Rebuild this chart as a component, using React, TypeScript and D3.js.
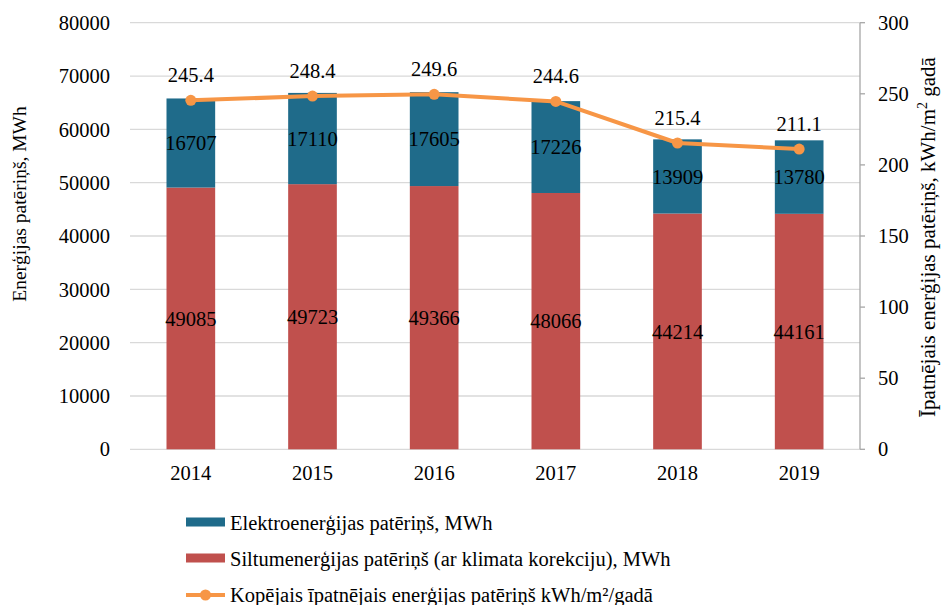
import React from "react";
import * as d3 from "d3";

const years = ["2014", "2015", "2016", "2017", "2018", "2019"];
const electricity = [16707, 17110, 17605, 17226, 13909, 13780];
const heat = [49085, 49723, 49366, 48066, 44214, 44161];
const specific = [245.4, 248.4, 249.6, 244.6, 215.4, 211.1];
const leftTicks = [0, 10000, 20000, 30000, 40000, 50000, 60000, 70000, 80000];
const rightTicks = [0, 50, 100, 150, 200, 250, 300];

const W = 942;
const H = 605;
const M = { left: 130, right: 860, top: 22.7, bottom: 449.3 };
const FONT = '"Liberation Serif", "Times New Roman", Times, serif';
const FS = 20.5;
const BLUE = "#1F6B8A";
const RED = "#C0504D";
const ORANGE = "#F79646";

export default function App() {
  const x = d3.scaleBand<string>().domain(years).range([M.left, M.right]).paddingInner(0.6).paddingOuter(0.3);
  const yL = d3.scaleLinear().domain([0, 80000]).range([M.bottom, M.top]);
  const yR = d3.scaleLinear().domain([0, 300]).range([M.bottom, M.top]);
  const cx = (y: string) => (x(y) as number) + x.bandwidth() / 2;
  const line = d3
    .line<number>()
    .x((_, i) => cx(years[i]))
    .y((d) => yR(d));

  return (
    <svg
      width={W}
      height={H}
      style={{ position: "absolute", left: 0, top: 0, background: "#fff", fontFamily: FONT }}
    >
      {leftTicks.map((t) => (
        <g key={t}>
          <line x1={M.left} x2={M.right} y1={yL(t)} y2={yL(t)} stroke="#d9d9d9" strokeWidth={1.3} />
          <text x={110} y={yL(t)} dy="0.35em" textAnchor="end" fontSize={FS}>
            {t}
          </text>
        </g>
      ))}
      <line x1={M.right} x2={M.right} y1={M.top} y2={M.bottom} stroke="#a6a6a6" strokeWidth={1.3} />
      {rightTicks.map((t) => (
        <g key={t}>
          <line x1={M.right} x2={M.right + 5} y1={yR(t)} y2={yR(t)} stroke="#a6a6a6" strokeWidth={1.3} />
          <text x={878} y={yR(t)} dy="0.35em" textAnchor="start" fontSize={FS}>
            {t}
          </text>
        </g>
      ))}
      {years.map((yr, i) => {
        const x0 = x(yr) as number;
        const hTop = yL(heat[i]);
        const eTop = yL(heat[i] + electricity[i]);
        return (
          <g key={yr}>
            <rect x={x0} width={x.bandwidth()} y={hTop} height={yL(0) - hTop} fill={RED} />
            <rect x={x0} width={x.bandwidth()} y={eTop} height={hTop - eTop} fill={BLUE} />
            <text x={cx(yr)} y={(hTop + yL(0)) / 2} dy="0.35em" textAnchor="middle" fontSize={FS}>
              {heat[i]}
            </text>
            <text x={cx(yr)} y={(hTop + eTop) / 2} dy="0.35em" textAnchor="middle" fontSize={FS}>
              {electricity[i]}
            </text>
            <text x={cx(yr)} y={480} textAnchor="middle" fontSize={FS}>
              {yr}
            </text>
          </g>
        );
      })}
      <path d={line(specific) || ""} fill="none" stroke={ORANGE} strokeWidth={4} strokeLinejoin="round" />
      {specific.map((v, i) => (
        <g key={i}>
          <circle cx={cx(years[i])} cy={yR(v)} r={5.5} fill={ORANGE} />
          <text x={cx(years[i])} y={yR(v) - 18} textAnchor="middle" fontSize={FS}>
            {v.toFixed(1)}
          </text>
        </g>
      ))}
      <text transform="translate(25.5,204) rotate(-90)" textAnchor="middle" fontSize={19.5}>
        Enerģijas patēriņš, MWh
      </text>
      <text transform="translate(935,237) rotate(-90)" textAnchor="middle" fontSize={21}>
        Īpatnējais enerģijas patēriņš, kWh/m
        <tspan dy={-8} fontSize={14}>2</tspan>
        <tspan dy={8}> gadā</tspan>
      </text>
      <g fontSize={FS}>
        <rect x={186} y={517.5} width={39} height={9} fill={BLUE} />
        <text x={230} y={530}>Elektroenerģijas patēriņš, MWh</text>
        <rect x={186} y={553.5} width={39} height={9} fill={RED} />
        <text x={230} y={566}>Siltumenerģijas patēriņš (ar klimata korekciju), MWh</text>
        <line x1={186} x2={225} y1={595} y2={595} stroke={ORANGE} strokeWidth={4} />
        <circle cx={205.5} cy={595} r={5.5} fill={ORANGE} />
        <text x={230} y={602}>Kopējais īpatnējais enerģijas patēriņš kWh/m²/gadā</text>
      </g>
    </svg>
  );
}
